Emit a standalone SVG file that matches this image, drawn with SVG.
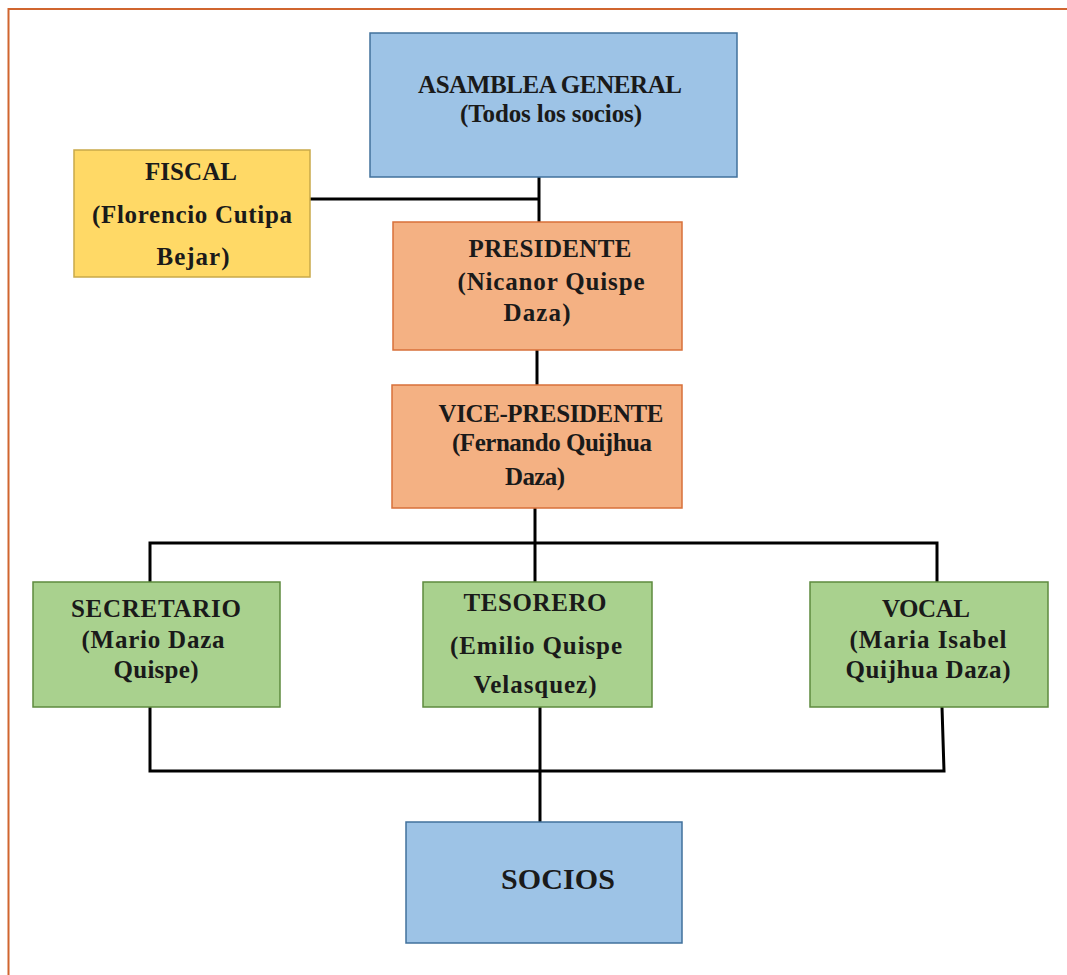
<svg xmlns="http://www.w3.org/2000/svg" width="1067" height="975" viewBox="0 0 1067 975">
<style>
  .blue{fill:#9DC3E6;stroke:#41719C;stroke-width:1.5}
  .yellow{fill:#FFD966;stroke:#C9A94A;stroke-width:1.5}
  .orange{fill:#F4B183;stroke:#D8703A;stroke-width:1.5}
  .green{fill:#A9D18E;stroke:#5E8A3E;stroke-width:1.5}
  .t{font-family:"Liberation Serif","Times New Roman",serif;font-weight:bold;font-size:25px;fill:#1a1a1a;text-anchor:middle}
  .big{font-size:30px}
  .conn{fill:none;stroke:#000;stroke-width:3;stroke-linejoin:miter}
</style>
<rect x="0" y="0" width="1067" height="975" fill="#ffffff"/>
<path d="M8.5 975 V9 H1067" fill="none" stroke="#D0652F" stroke-width="2"/>

<g id="connectors">
  <path class="conn" d="M539 177 V222"/>
  <path class="conn" d="M310 199 H539"/>
  <path class="conn" d="M537 350 V385"/>
  <path class="conn" d="M535 508 V582"/>
  <path class="conn" d="M150 582 V543 H937 V582"/>
  <path class="conn" d="M150 707 V771 H944 L942 707"/>
  <path class="conn" d="M540 707 V822"/>
</g>

<g id="asamblea">
  <rect class="blue" x="370" y="33" width="367" height="144"/>
  <text class="t" x="550" y="93" textLength="264" lengthAdjust="spacing">ASAMBLEA GENERAL</text>
  <text class="t" x="551" y="122" textLength="182" lengthAdjust="spacing">(Todos los socios)</text>
</g>

<g id="fiscal">
  <rect class="yellow" x="74" y="150" width="236" height="127"/>
  <text class="t" x="191" y="180" textLength="92" lengthAdjust="spacing">FISCAL</text>
  <text class="t" x="192" y="223" textLength="200" lengthAdjust="spacing">(Florencio Cutipa</text>
  <text class="t" x="193" y="265" textLength="73" lengthAdjust="spacing">Bejar)</text>
</g>

<g id="presidente">
  <rect class="orange" x="393" y="222" width="289" height="128"/>
  <text class="t" x="550" y="257" textLength="163" lengthAdjust="spacing">PRESIDENTE</text>
  <text class="t" x="551" y="290" textLength="187" lengthAdjust="spacing">(Nicanor Quispe</text>
  <text class="t" x="537" y="321" textLength="67" lengthAdjust="spacing">Daza)</text>
</g>

<g id="vicepresidente">
  <rect class="orange" x="392" y="385" width="290" height="123"/>
  <text class="t" x="551" y="422" textLength="225" lengthAdjust="spacing">VICE-PRESIDENTE</text>
  <text class="t" x="552" y="451" textLength="200" lengthAdjust="spacing">(Fernando Quijhua</text>
  <text class="t" x="535" y="485" textLength="60" lengthAdjust="spacing">Daza)</text>
</g>

<g id="secretario">
  <rect class="green" x="33" y="582" width="247" height="125"/>
  <text class="t" x="156" y="617" textLength="170" lengthAdjust="spacing">SECRETARIO</text>
  <text class="t" x="153" y="648" textLength="143" lengthAdjust="spacing">(Mario Daza</text>
  <text class="t" x="156" y="678" textLength="85" lengthAdjust="spacing">Quispe)</text>
</g>

<g id="tesorero">
  <rect class="green" x="423" y="582" width="229" height="125"/>
  <text class="t" x="535" y="611" textLength="143" lengthAdjust="spacing">TESORERO</text>
  <text class="t" x="536" y="654" textLength="172" lengthAdjust="spacing">(Emilio Quispe</text>
  <text class="t" x="535" y="693" textLength="123" lengthAdjust="spacing">Velasquez)</text>
</g>

<g id="vocal">
  <rect class="green" x="810" y="582" width="238" height="125"/>
  <text class="t" x="926" y="617" textLength="88" lengthAdjust="spacing">VOCAL</text>
  <text class="t" x="928" y="648" textLength="157" lengthAdjust="spacing">(Maria Isabel</text>
  <text class="t" x="928" y="678" textLength="165" lengthAdjust="spacing">Quijhua Daza)</text>
</g>

<g id="socios">
  <rect class="blue" x="406" y="822" width="276" height="121"/>
  <text class="t big" x="558" y="889" textLength="114" lengthAdjust="spacing">SOCIOS</text>
</g>
</svg>
